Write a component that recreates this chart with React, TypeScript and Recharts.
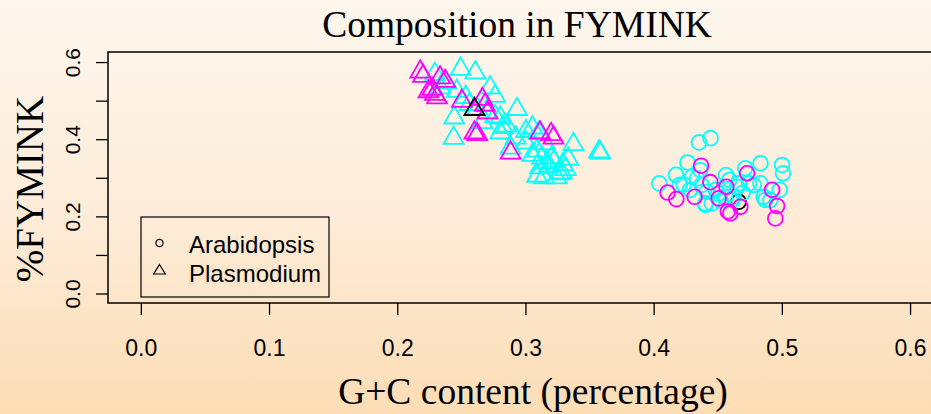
import React from 'react';
import { ScatterChart, Scatter, XAxis, YAxis, ReferenceArea } from 'recharts';

// G+C content vs %FYMINK, one [gc, fymink] pair per gene
const arabidopsisCyan: [number, number][] = [
  [0.435, 0.393], [0.444, 0.404], [0.426, 0.341], [0.417, 0.309], [0.404, 0.287],
  [0.42, 0.283], [0.4296, 0.304], [0.4335, 0.3], [0.423, 0.284], [0.44, 0.235],
  [0.441, 0.265], [0.44, 0.231], [0.445, 0.235], [0.448, 0.27], [0.456, 0.3085],
  [0.4555, 0.252], [0.461, 0.244], [0.4647, 0.278], [0.466, 0.287], [0.462, 0.252],
  [0.471, 0.326], [0.474, 0.287], [0.4776, 0.2826], [0.4829, 0.287], [0.4829, 0.339],
  [0.4854, 0.252], [0.4867, 0.244], [0.498, 0.27], [0.4998, 0.3345], [0.5005, 0.313],
  [0.4907, 0.244], [0.436, 0.321], [0.4587, 0.2956], [0.428, 0.27], [0.45, 0.26],
  [0.437, 0.283], [0.452, 0.242], [0.469, 0.262],
];
const arabidopsisMagenta: [number, number][] = [
  [0.4366, 0.3326], [0.4105, 0.263], [0.4173, 0.246], [0.4316, 0.252], [0.4438, 0.29],
  [0.4503, 0.248], [0.4563, 0.278], [0.4594, 0.209], [0.4672, 0.226], [0.4725, 0.313],
  [0.492, 0.27], [0.4959, 0.228], [0.4945, 0.196], [0.4575, 0.214],
];
const arabidopsisBlack: [number, number][] = [[0.4659, 0.239]];

const plasmodiumCyan: [number, number][] = [
  [0.229, 0.57], [0.249, 0.583], [0.2605, 0.574], [0.233, 0.535], [0.246, 0.526],
  [0.272, 0.535], [0.276, 0.513], [0.244, 0.457], [0.2436, 0.404], [0.28, 0.457],
  [0.293, 0.479], [0.285, 0.436], [0.28, 0.418], [0.288, 0.379], [0.305, 0.431],
  [0.31, 0.418], [0.3087, 0.371], [0.3125, 0.353], [0.3164, 0.34], [0.311, 0.3275],
  [0.3087, 0.306], [0.314, 0.3016], [0.324, 0.3016], [0.329, 0.336], [0.331, 0.323],
  [0.328, 0.3146], [0.32, 0.353], [0.337, 0.388], [0.357, 0.369], [0.358, 0.366],
  [0.238, 0.548], [0.256, 0.492], [0.266, 0.445], [0.276, 0.46], [0.292, 0.405],
  [0.3, 0.392], [0.305, 0.36], [0.318, 0.332], [0.322, 0.345], [0.326, 0.312],
  [0.3, 0.422], [0.27, 0.47], [0.282, 0.432], [0.333, 0.35], [0.315, 0.39],
  [0.262, 0.48], [0.253, 0.51],
];
const plasmodiumMagenta: [number, number][] = [
  [0.2176, 0.576], [0.2197, 0.565], [0.233, 0.561], [0.237, 0.552], [0.227, 0.531],
  [0.229, 0.518], [0.2306, 0.509], [0.25, 0.5], [0.266, 0.505], [0.2598, 0.418],
  [0.262, 0.414], [0.27, 0.47], [0.288, 0.366], [0.311, 0.418], [0.3196, 0.414],
  [0.224, 0.525], [0.268, 0.49], [0.3215, 0.405],
];
const plasmodiumBlack: [number, number][] = [[0.2598, 0.479]];

const xTicks = [0, 0.1, 0.2, 0.3, 0.4, 0.5, 0.6];
const yTicks = [0, 0.1, 0.2, 0.3, 0.4, 0.5, 0.6];
const yTickLabels = ['0.0', '0.2', '0.4', '0.6'];
const legendLabels = ['Arabidopsis', 'Plasmodium'];

const X_DOMAIN: [number, number] = [-0.026, 0.676];
const Y_DOMAIN: [number, number] = [-0.0233, 0.6274];

const SERIF = '"Liberation Serif", "Times New Roman", serif';
const SANS = '"Liberation Sans", Arial, sans-serif';

const toPoints = (rows: [number, number][]) => rows.map(([gc, fymink]) => ({ gc, fymink }));

const triangleShape = (color: string) => (props: any) => {
  const { cx, cy } = props;
  const r = 11.5;
  const xc = r * 0.866;
  const pts = `${cx},${cy - r} ${cx + xc},${cy + r / 2} ${cx - xc},${cy + r / 2}`;
  return <polygon points={pts} fill="none" stroke={color} strokeWidth={1.8} />;
};

const circleShape = (color: string) => (props: any) => {
  const { cx, cy } = props;
  return <circle cx={cx} cy={cy} r={7.4} fill="none" stroke={color} strokeWidth={1.8} />;
};

const XTick = ({ x, y, payload }: any) => (
  <text x={x} y={y + 39} textAnchor="middle" fontFamily={SANS} fontSize={23} fill="#000">
    {Number(payload.value).toFixed(1)}
  </text>
);

const YTick = ({ x, y, payload }: any) => {
  const label = Number(payload.value).toFixed(1);
  if (!yTickLabels.includes(label)) return <g />;
  const bx = x - 14;
  return (
    <text x={bx} y={y} transform={`rotate(-90, ${bx}, ${y})`} textAnchor="middle"
      fontFamily={SANS} fontSize={21} fill="#000">
      {label}
    </text>
  );
};

const App: React.FC = () => {
  return (
    <div
      style={{
        position: 'absolute', left: 0, top: 0, width: 931, height: 414, overflow: 'hidden',
        background: 'linear-gradient(to bottom, #FEF7EE 0%, #FDEBD6 55%, #FCDDB5 100%)',
      }}
    >
      <ScatterChart width={1020} height={414} margin={{ top: 52, right: 12, left: 48, bottom: 51 }}>
        <XAxis type="number" dataKey="gc" domain={X_DOMAIN} ticks={xTicks} interval={0}
          allowDataOverflow height={60} axisLine={false} tickSize={12}
          tickLine={{ stroke: '#000', strokeWidth: 1.3 }} tick={<XTick />} />
        <YAxis type="number" dataKey="fymink" domain={Y_DOMAIN} ticks={yTicks} interval={0}
          allowDataOverflow width={60} axisLine={false} tickSize={12}
          tickLine={{ stroke: '#000', strokeWidth: 1.3 }} tick={<YTick />} />
        <ReferenceArea x1={X_DOMAIN[0]} x2={X_DOMAIN[1]} y1={Y_DOMAIN[0]} y2={Y_DOMAIN[1]}
          fill="none" fillOpacity={0} stroke="#000" strokeWidth={1.5} ifOverflow="visible" />
        <Scatter data={toPoints(plasmodiumCyan)} shape={triangleShape('#00FFFF')} isAnimationActive={false} />
        <Scatter data={toPoints(plasmodiumMagenta)} shape={triangleShape('#FF00FF')} isAnimationActive={false} />
        <Scatter data={toPoints(plasmodiumBlack)} shape={triangleShape('#000000')} isAnimationActive={false} />
        <Scatter data={toPoints(arabidopsisBlack)} shape={circleShape('#000000')} isAnimationActive={false} />
        <Scatter data={toPoints(arabidopsisCyan)} shape={circleShape('#00FFFF')} isAnimationActive={false} />
        <Scatter data={toPoints(arabidopsisMagenta)} shape={circleShape('#FF00FF')} isAnimationActive={false} />
      </ScatterChart>

      {/* titles */}
      <svg width={931} height={414} style={{ position: 'absolute', left: 0, top: 0, pointerEvents: 'none' }}>
        <text x={517} y={37} textAnchor="middle" fontFamily={SERIF} fontSize={37.5} fill="#000">
          Composition in FYMINK
        </text>
        <text x={533} y={404} textAnchor="middle" fontFamily={SERIF} fontSize={37.5} fill="#000">
          G+C content (percentage)
        </text>
        <text x={43} y={189} transform="rotate(-90, 43, 189)" textAnchor="middle" fontFamily={SERIF}
          fontSize={39} fill="#000">
          %FYMINK
        </text>

        {/* legend */}
        <rect x={141} y={217} width={188} height={80} fill="none" stroke="#000" strokeWidth={1.2} />
        <circle cx={159.5} cy={243} r={3.6} fill="none" stroke="#000" strokeWidth={1.2} />
        <polygon points="159.5,264.5 165.3,274 153.7,274" fill="none" stroke="#000" strokeWidth={1.2} />
        <text x={189} y={253} fontFamily={SANS} fontSize={24} fill="#000">{legendLabels[0]}</text>
        <text x={189} y={281.5} fontFamily={SANS} fontSize={24} fill="#000">{legendLabels[1]}</text>
      </svg>
    </div>
  );
};

export default App;
